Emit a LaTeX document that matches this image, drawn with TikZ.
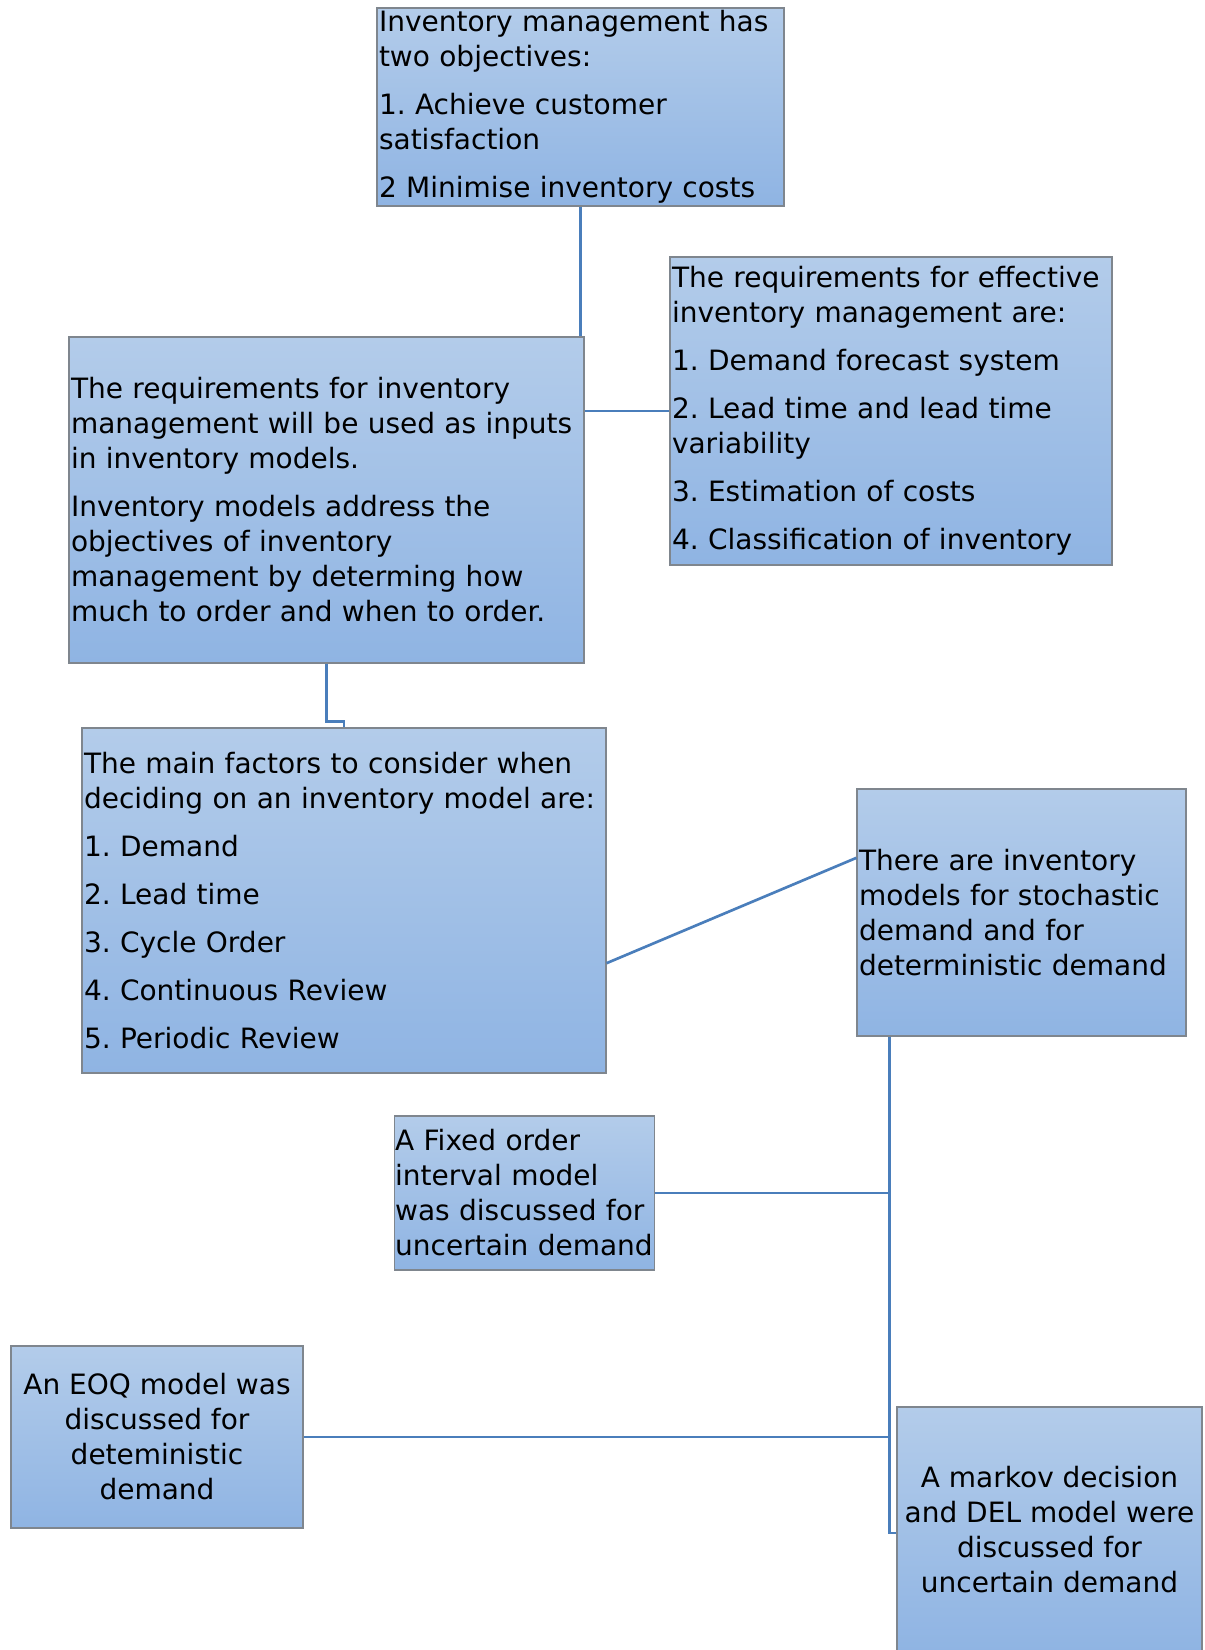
\documentclass[tikz,border=0pt]{standalone}
\usepackage{fontspec}
\setmainfont{DejaVu Sans}
\usetikzlibrary{calc,positioning}
\definecolor{boxtop}{HTML}{B3CCEA}
\definecolor{boxbottom}{HTML}{8FB4E3}
\definecolor{bordergray}{HTML}{7F868E}
\definecolor{linkblue}{HTML}{4A7EBB}
\newcommand{\gap}{\\[9.75pt]}
\newcommand{\boxfont}{\fontsize{21}{26.25}\selectfont\frenchspacing\hyphenpenalty=10000\relax}
\tikzset{
  infobox/.style={draw=bordergray,line width=.9pt,top color=boxtop,bottom color=boxbottom,align=left,inner xsep=1.5pt,inner ysep=1pt,font=\boxfont,text=black},
  centerbox/.style={infobox,align=center},
  link/.style={draw=linkblue,line width=2pt}
}

\begin{document}
\begin{tikzpicture}[x=.75pt,y=-.75pt]
  \fill[white] (0,0) rectangle (1205,1650);
  \useasboundingbox (0,0) rectangle (1205,1650);

  % Upper chain of boxes.
  \node[infobox,minimum width=305.25pt,minimum height=148.5pt,text width=302.25pt] (objectives) at (580.5,107) {Inventory management has\\two objectives:\gap 1. Achieve customer\\satisfaction\gap 2 Minimise inventory costs};
  \node[infobox,minimum width=386.25pt,minimum height=244.5pt,text width=383.25pt] (inputs) at (326.5,500) {The requirements for inventory\\management will be used as inputs\\in inventory models.\gap Inventory models address the\\objectives of inventory\\management by determing how\\much to order and when to order.};
  \node[infobox,minimum width=331.5pt,minimum height=231pt,text width=328.5pt] (requirements) at (891,411) {The requirements for effective\\inventory management are:\gap 1. Demand forecast system\gap 2. Lead time and lead time\\variability\gap 3. Estimation of costs\gap 4. Classification of inventory};
  \node[infobox,minimum width=393pt,minimum height=258.75pt,text width=390pt] (factors) at (344,900.5) {The main factors to consider when\\deciding on an inventory model are:\gap 1. Demand\gap 2. Lead time\gap 3. Cycle Order\gap 4. Continuous Review\gap 5. Periodic Review};

  % Demand types and the models discussed.
  \node[infobox,minimum width=246.75pt,minimum height=185.25pt,text width=243.75pt] (stochastic) at (1021.5,912.5) {There are inventory\\models for stochastic\\demand and for\\deterministic demand};
  \node[infobox,inner xsep=.5pt,minimum width=194.25pt,minimum height=115.5pt,text width=194pt] (fixedorder) at (524.5,1193) {A Fixed order\\interval model\\was discussed for\\uncertain demand};
  \node[centerbox,minimum width=219pt,minimum height=136.5pt] (eoq) at (157,1437) {An EOQ model was\\discussed for\\deteministic\\demand};
  \node[centerbox,minimum width=228.75pt,minimum height=183.75pt] (markov) at (1049.5,1529.5) {A markov decision\\and DEL model were\\discussed for\\uncertain demand};

  % Connectors.
  \draw[link] (objectives.south) -- (objectives.south |- inputs.north);
  \draw[link] (inputs.east |- requirements.west) -- (requirements.west);
  \draw[link] (inputs.south) |- ([yshift=4.5pt]factors.north) -- (factors.north);
  \draw[link] ([yshift=-47pt]factors.east) -- ([yshift=41pt]stochastic.west);
  \coordinate (trunk) at ([xshift=24.75pt]stochastic.south west);
  \draw[link] (trunk) |- (fixedorder.east);
  \draw[link] (trunk) |- (eoq.east);
  \draw[link] (trunk) |- ([yshift=-2.6pt]markov.west);
\end{tikzpicture}
\end{document}
